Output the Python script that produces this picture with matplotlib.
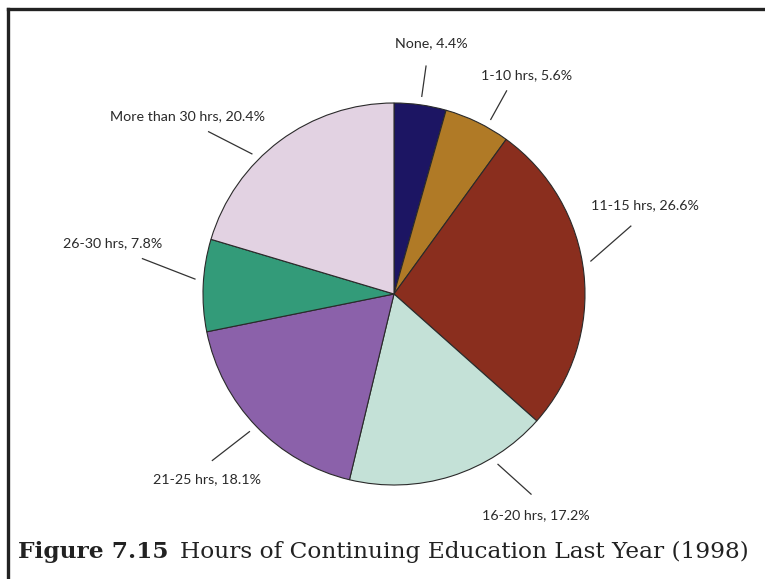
import numpy as np
import matplotlib
matplotlib.use("Agg")
import matplotlib.pyplot as plt
from matplotlib.lines import Line2D

# data
categories = ["None", "1-10 hrs", "11-15 hrs", "16-20 hrs",
              "21-25 hrs", "26-30 hrs", "More than 30 hrs"]
shares = [4.4, 5.6, 26.6, 17.2, 18.1, 7.8, 20.4]
colors = ["#1c1563", "#b07a26", "#8a2e1e", "#c4e1d7",
          "#8b61aa", "#339b79", "#e2d2e2"]

# leader layout per slice: inner angle, outer angle, outer radius, text offset
leaders = [
    (82, 82, 1.205, (0.03, 0.12)),
    (61, 61, 1.216, (0.106, 0.084)),
    (9.5, 16, 1.29, (0.074, 0.11)),
    (-58.6, -55.6, 1.27, (0.026, -0.11)),
    (-136.4, -137.5, 1.29, (-0.028, -0.097)),
    (175.7, 172, 1.33, (-0.154, 0.082)),
    (135.4, 138.8, 1.29, (-0.108, 0.082)),
]

W, H = 765, 579
cx, cy, R = 394, 294, 191

fig = plt.figure(figsize=(W / 100, H / 100), dpi=100)
ax = fig.add_axes([0, 0, 1, 1])
ax.axis("off")

ax.pie(shares, colors=colors, startangle=90, counterclock=False, radius=1,
       wedgeprops=dict(edgecolor="#2a2a2a", linewidth=0.8))
ax.set_xlim(-cx / R, (W - cx) / R)
ax.set_ylim(-(H - cy) / R, cy / R)
ax.set_aspect("auto")

for cat, val, (a_in, a_out, r_out, (tx, ty)) in zip(categories, shares, leaders):
    p0 = 1.045 * np.array([np.cos(np.radians(a_in)), np.sin(np.radians(a_in))])
    p1 = r_out * np.array([np.cos(np.radians(a_out)), np.sin(np.radians(a_out))])
    ax.plot([p0[0], p1[0]], [p0[1], p1[1]], color="#333333", lw=0.9)
    ax.text(p1[0] + tx, p1[1] + ty, f"{cat}, {val}%", ha="center", va="center",
            fontsize=10.3, family="Lato", color="#2a2a2a")

# frame lines (top and left only)
fig.add_artist(Line2D([8 / W, 1], [1 - 9 / H, 1 - 9 / H], transform=fig.transFigure,
                      color="#222222", lw=2.4))
fig.add_artist(Line2D([8 / W, 8 / W], [0, 1 - 9 / H], transform=fig.transFigure,
                      color="#222222", lw=2.4))

# caption, sized to span the same width as the original
def caption(size):
    t1 = fig.text(18 / W, 21 / H, "Figure 7.15", family="DejaVu Serif",
                  fontweight="bold", fontsize=size, color="#222222", va="baseline")
    fig.canvas.draw()
    bb = t1.get_window_extent()
    t2 = fig.text((bb.x1 + 0.7 * size) / W, 21 / H,
                  "Hours of Continuing Education Last Year (1998)",
                  family="DejaVu Serif", fontsize=size, color="#222222", va="baseline")
    fig.canvas.draw()
    return t1, t2

t1, t2 = caption(15)
width = t2.get_window_extent().x1 - t1.get_window_extent().x0
t1.remove()
t2.remove()
caption(15 * 734 / width)

fig.savefig("out.png", dpi=100)
